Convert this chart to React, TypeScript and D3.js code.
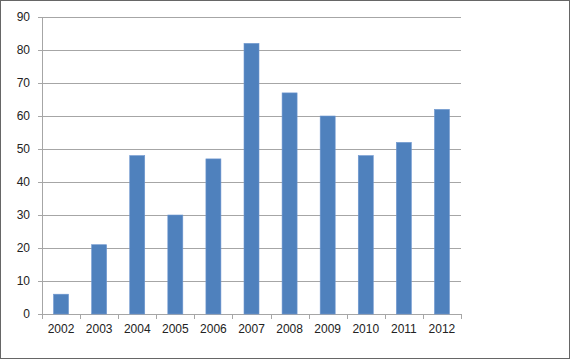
import { useEffect, useRef } from 'react';
import * as d3 from 'd3';

const years = ['2002', '2003', '2004', '2005', '2006', '2007', '2008', '2009', '2010', '2011', '2012'];
const counts = [6, 21, 48, 30, 47, 82, 67, 60, 48, 52, 62];
const yTicks = [0, 10, 20, 30, 40, 50, 60, 70, 80, 90];

export default function App() {
  const ref = useRef<SVGSVGElement>(null);

  useEffect(() => {
    const el = ref.current;
    if (!el) return;
    const svg = d3.select(el);
    svg.selectAll('*').remove();

    const w = 570;
    const h = 359;
    const m = { t: 17, r: 109, b: 45, l: 42 };

    // outer frame
    svg.append('rect')
      .attr('x', 0.5).attr('y', 0.5)
      .attr('width', w - 1).attr('height', h - 1)
      .attr('fill', '#fff')
      .attr('stroke', '#666');

    const x = d3.scaleBand<string>()
      .domain(years)
      .range([m.l, w - m.r]);

    const y = d3.scaleLinear()
      .domain([0, 90])
      .range([h - m.b, m.t]);

    const font = '"Liberation Sans", Arial, sans-serif';

    // gridlines
    svg.append('g')
      .selectAll('line')
      .data(yTicks)
      .join('line')
      .attr('x1', m.l - 4)
      .attr('x2', w - m.r)
      .attr('y1', d => Math.round(y(d)) + 0.5)
      .attr('y2', d => Math.round(y(d)) + 0.5)
      .attr('stroke', '#a6a6a6');

    // y axis line
    svg.append('line')
      .attr('x1', m.l + 0.5).attr('x2', m.l + 0.5)
      .attr('y1', y(90)).attr('y2', y(0))
      .attr('stroke', '#a6a6a6');

    // x category ticks
    const bounds = years.map(d => x(d) as number).concat([w - m.r]);
    svg.append('g')
      .selectAll('line')
      .data(bounds)
      .join('line')
      .attr('x1', d => Math.round(d) + 0.5)
      .attr('x2', d => Math.round(d) + 0.5)
      .attr('y1', y(0))
      .attr('y2', y(0) + 5)
      .attr('stroke', '#a6a6a6');

    // bars
    const bw = 15;
    svg.append('g')
      .selectAll('rect')
      .data(counts)
      .join('rect')
      .attr('x', (d, i) => (x(years[i]) as number) + x.bandwidth() / 2 - bw / 2)
      .attr('y', d => y(d))
      .attr('width', bw)
      .attr('height', d => y(0) - y(d))
      .attr('fill', '#4f81bd')
      .attr('stroke', '#6f97d0')
      .attr('stroke-width', 0.6);

    // y labels
    svg.append('g')
      .selectAll('text')
      .data(yTicks)
      .join('text')
      .attr('x', 30)
      .attr('y', d => y(d) + 4)
      .attr('text-anchor', 'end')
      .attr('font-family', font)
      .attr('font-size', 12)
      .attr('fill', '#222')
      .text(d => d);

    // x labels
    svg.append('g')
      .selectAll('text')
      .data(years)
      .join('text')
      .attr('x', d => (x(d) as number) + x.bandwidth() / 2)
      .attr('y', y(0) + 19)
      .attr('text-anchor', 'middle')
      .attr('font-family', font)
      .attr('font-size', 12)
      .attr('fill', '#222')
      .text(d => d);
  }, []);

  return (
    <div style={{ position: 'fixed', left: 0, top: 0 }}>
      <svg ref={ref} width={570} height={359} style={{ display: 'block' }} />
    </div>
  );
}
